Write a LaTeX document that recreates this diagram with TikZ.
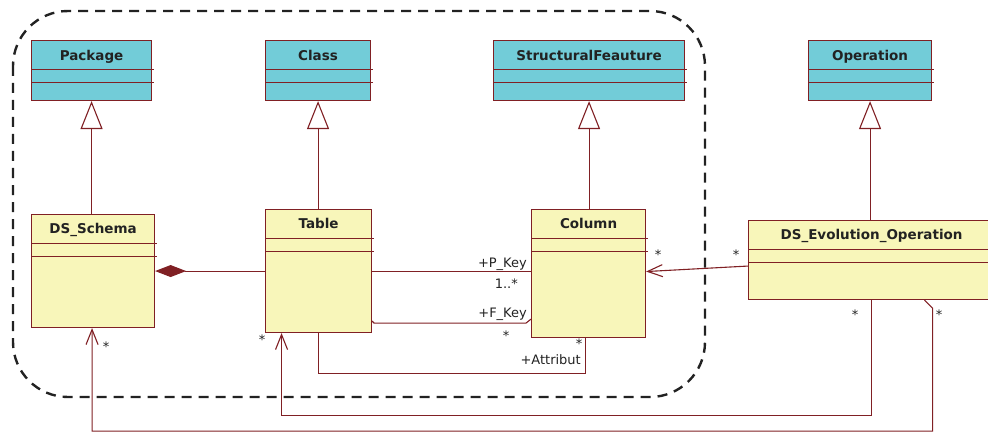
\documentclass[tikz,border=0pt]{standalone}
\usepackage{fontspec}
\setmainfont{DejaVu Sans}
\usetikzlibrary{positioning,arrows.meta,calc}
\definecolor{umlred}{RGB}{128,32,36}
\definecolor{umlcyan}{RGB}{114,204,216}
\definecolor{umlyellow}{RGB}{248,246,186}
\definecolor{umltext}{RGB}{34,34,34}

\begin{document}
\begin{tikzpicture}[x=1pt,y=-1pt,
  classbox/.style={draw=umlred, line width=1.1pt, anchor=north west, inner sep=0pt},
  superbox/.style={classbox, fill=umlcyan, minimum height=60pt},
  subbox/.style={classbox, fill=umlyellow},
  title/.style={font=\bfseries\fontsize{13.5}{15}\selectfont, text=umltext, inner sep=0pt, anchor=base},
  role/.style={font=\fontsize{13}{15}\selectfont, text=umltext, inner sep=0pt, anchor=base east},
  mult/.style={font=\fontsize{13}{15}\selectfont, text=umltext, inner sep=0pt, anchor=north},
  link/.style={draw=umlred, line width=1.1pt},
  inherit/.style={link, -{Triangle[open, length=28pt, width=22pt, fill=white]}},
  navig/.style={link, -{Straight Barb[length=15pt, width=12pt]}},
  own/.style={link, {Diamond[length=31pt, width=12pt, fill=umlred]}-}
  ]
  \useasboundingbox (0,0) rectangle (988,433);
  \clip (0,0) rectangle (988,433);

  % metamodel frame
  \draw[umltext, line width=2.4pt, dash pattern=on 10pt off 7pt, rounded corners=55pt]
    (13,11) rectangle (705,397);

  % classes
  \node[superbox, minimum width=120pt] (pkg) at (31,40) {};
  \node[superbox, minimum width=105pt] (cls) at (265,40) {};
  \node[superbox, minimum width=191pt] (sfeat) at (493,40) {};
  \node[superbox, minimum width=123pt] (oper) at (808,40) {};
  \node[subbox, minimum width=123pt, minimum height=113pt] (schema) at (31,214) {};
  \node[subbox, minimum width=106pt, minimum height=123pt] (tbl) at (265,209) {};
  \node[subbox, minimum width=114pt, minimum height=128pt] (col) at (531,209) {};
  \node[subbox, minimum width=248pt, minimum height=79pt] (evo) at (748,220) {};

  \foreach \b in {pkg,cls,sfeat,oper,schema,tbl,col,evo}
    \foreach \d in {29,42}
      \draw[link, line width=0.8pt] ([yshift=-\d]\b.north west) -- ([xshift=2,yshift=-\d]\b.north east);

  \node[title] (pkg-t) at ([yshift=-20.5]pkg.north) {Package};
  \node[title] (cls-t) at ([yshift=-20.5]cls.north) {Class};
  \node[title] (sfeat-t) at ([yshift=-20.5]sfeat.north) {StructuralFeauture};
  \node[title] (oper-t) at ([yshift=-20.5]oper.north) {Operation};
  \node[title] (schema-t) at ([yshift=-19.5]schema.north) {DS\_Schema};
  \node[title] (tbl-t) at ([yshift=-19.5]tbl.north) {Table};
  \node[title] (col-t) at ([yshift=-19.5]col.north) {Column};
  \node[title] (evo-t) at ([xshift=-1pt,yshift=-19.5]evo.north) {DS\_Evolution\_Operation};

  % generalisations
  \draw[inherit] (pkg.south |- schema.north) -- (pkg.south);
  \draw[inherit] (cls.south |- tbl.north) -- (cls.south);
  \draw[inherit] (sfeat.south |- col.north) -- (sfeat.south);
  \draw[inherit] (oper.south |- evo.north) -- (oper.south);

  % associations
  \draw[own] (schema.east) -- (tbl.west);
  \draw[link] (tbl.east) -- (tbl.east -| col.west);
  \draw[link] ([yshift=12]tbl.south east) -- ++(2,2) -- ([xshift=-5,yshift=15]col.south west)
    -- ([yshift=19]col.south west);
  \draw[link] (tbl.south) -- ++(0,40) -| ([xshift=-3]col.south);
  \draw[navig] ([yshift=-6]evo.west) -- ([yshift=2]col.east);
  \draw[navig] ([xshift=-1]evo.south) -- ++(0,115) -| ([xshift=-37]tbl.south);
  \draw[navig] ([xshift=52]evo.south) -- ++(8,8) |- ++(-200,123) -| ([xshift=-1]schema.south);

  % roles and multiplicities
  \node[role] (pk) at (527,267) {+P\_Key};
  \node[role] (pkm) at (518,288) {1..*};
  \node[role] (fk) at (527,317) {+F\_Key};
  \node[mult] (fkm) at (506,331) {*};
  \node[mult] (atm) at (579,339) {*};
  \node[role] (at) at (581,364) {+Attribut};
  \node[mult] (colm) at (658,250) {*};
  \node[mult] (evom) at (736,250) {*};
  \node[mult] (tblm) at (262,335) {*};
  \node[mult] (evotm) at (855,310) {*};
  \node[mult] (evosm) at (939,310) {*};
  \node[mult] (schemam) at (106,342) {*};
\end{tikzpicture}
\end{document}
